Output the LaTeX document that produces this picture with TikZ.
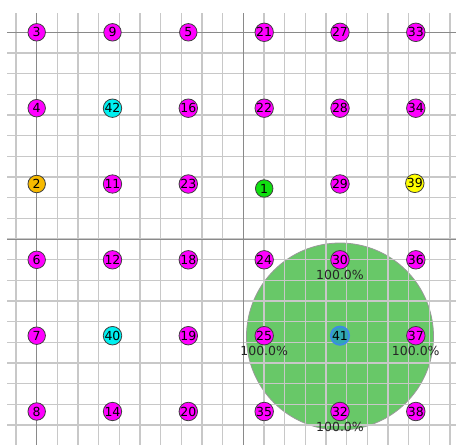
\documentclass[tikz,border=0pt]{standalone}
\usepackage{fontspec}
\setmainfont{DejaVu Sans}
\definecolor{minorc}{HTML}{C8C8C8}
\definecolor{majorc}{HTML}{8A8A8A}
\definecolor{mag}{HTML}{FF00FF}
\definecolor{cyn}{HTML}{00F0F0}
\definecolor{gold}{HTML}{F7BA00}
\definecolor{yel}{HTML}{FFFF00}
\definecolor{grn}{HTML}{10E010}
\definecolor{bigg}{HTML}{68C868}
\definecolor{teal41}{HTML}{30A8B0}
\definecolor{ring41}{HTML}{3C8CE6}
\tikzset{
  pt/.style={circle, draw=black!75, line width=0.8pt, minimum size=17.5pt, inner sep=0pt, font=\fontsize{12.5}{13}\selectfont},
  ptm/.style={pt, fill=mag},
  lbl/.style={inner sep=0pt, font=\fontsize{12.5}{13}\selectfont, text=black!85},
}
\begin{document}
\begin{tikzpicture}[x=1pt,y=-1pt]
\useasboundingbox (0,0) rectangle (456,445);
\fill[white] (0,0) rectangle (456,445);
% big coverage circle
\node[circle, fill=bigg, draw=black!40, line width=0.8pt, minimum size=187pt, inner sep=0pt] (cov) at (340,336.5) {};
% grid
\begin{scope}
\clip (7,13) rectangle (456,445);
\foreach \k in {-1,...,20} {
  \draw[minorc, line width=1.2pt] ({36.67+20.67*\k},13) -- ({36.67+20.67*\k},445);
}
\foreach \k in {0,...,19} {
  \draw[minorc, line width=1.2pt] (7,{32.33+20.67*\k}) -- (456,{32.33+20.67*\k});
}
\draw[majorc, line width=1pt] (36.67,13) -- (36.67,445);
\draw[majorc, line width=1pt] (243.3,13) -- (243.3,445);
\draw[majorc, line width=1pt] (7,32.33) -- (456,32.33);
\draw[majorc, line width=1pt] (7,239) -- (456,239);
\end{scope}
% nodes
\def\cA{36.7}\def\cB{112.5}\def\cC{188.3}\def\cD{264.2}\def\cE{340}\def\cF{415.8}
\def\rA{32.3}\def\rB{108.2}\def\rC{184}\def\rD{259.8}\def\rE{335.7}\def\rF{411.5}
\node[ptm] (n3) at (\cA,\rA) {3};
\node[ptm] (n9) at (\cB,\rA) {9};
\node[ptm] (n5) at (\cC,\rA) {5};
\node[ptm] (n21) at (\cD,\rA) {21};
\node[ptm] (n27) at (\cE,\rA) {27};
\node[ptm] (n33) at (\cF,\rA) {33};
\node[ptm] (n4) at (\cA,\rB) {4};
\node[pt, fill=cyn] (n42) at (\cB,\rB) {42};
\node[ptm] (n16) at (\cC,\rB) {16};
\node[ptm] (n22) at (\cD,\rB) {22};
\node[ptm] (n28) at (\cE,\rB) {28};
\node[ptm] (n34) at (\cF,\rB) {34};
\node[pt, fill=gold] (n2) at (\cA,\rC) {2};
\node[ptm] (n11) at (\cB,\rC) {11};
\node[ptm] (n23) at (\cC,\rC) {23};
\node[pt, fill=grn] (n1) at (\cD,188.5) {1};
\node[ptm] (n29) at (\cE,\rC) {29};
\node[pt, fill=yel] (n39) at (414.8,183.3) {39};
\node[ptm] (n6) at (\cA,\rD) {6};
\node[ptm] (n12) at (\cB,\rD) {12};
\node[ptm] (n18) at (\cC,\rD) {18};
\node[ptm] (n24) at (\cD,\rD) {24};
\node[ptm] (n30) at (\cE,\rD) {30};
\node[ptm] (n36) at (\cF,\rD) {36};
\node[ptm] (n7) at (\cA,\rE) {7};
\node[pt, fill=cyn] (n40) at (\cB,\rE) {40};
\node[ptm] (n19) at (\cC,\rE) {19};
\node[ptm] (n25) at (\cD,\rE) {25};
\node[pt, fill=teal41, draw=ring41, line width=1.8pt, minimum size=16.5pt] (n41) at (\cE,\rE) {41};
\node[ptm] (n37) at (\cF,\rE) {37};
\node[ptm] (n8) at (\cA,\rF) {8};
\node[ptm] (n14) at (\cB,\rF) {14};
\node[ptm] (n20) at (\cC,\rF) {20};
\node[ptm] (n35) at (\cD,\rF) {35};
\node[ptm] (n32) at (\cE,\rF) {32};
\node[ptm] (n38) at (\cF,\rF) {38};
% labels
\node[lbl] (l30) at ([yshift=-15pt]n30.center) {100.0\%};
\node[lbl] (l25) at ([yshift=-15pt]n25.center) {100.0\%};
\node[lbl] (l37) at ([yshift=-15pt]n37.center) {100.0\%};
\node[lbl] (l32) at ([yshift=-15pt]n32.center) {100.0\%};
\end{tikzpicture}
\end{document}
